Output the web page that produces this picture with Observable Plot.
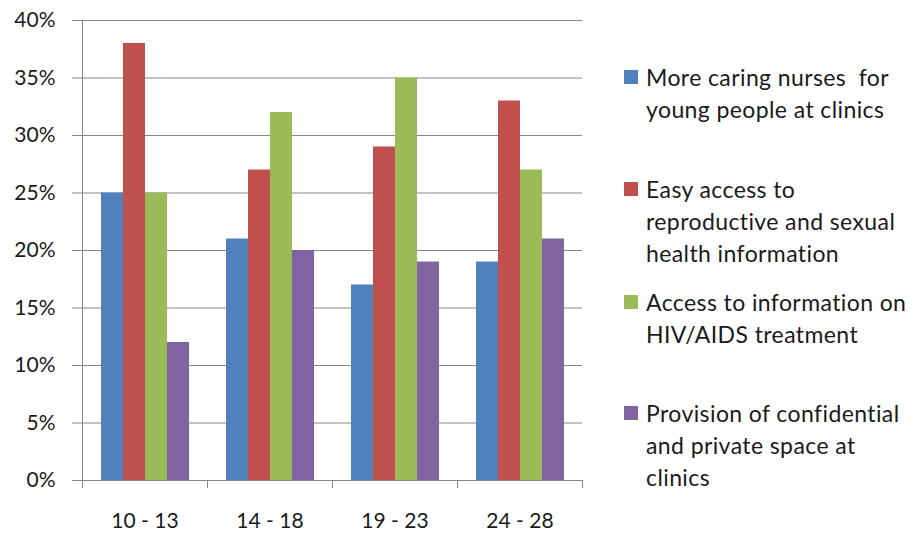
<!DOCTYPE html>
<html>
<head>
<meta charset="utf-8">
<script src="https://cdn.jsdelivr.net/npm/d3@7"></script>
<script src="https://cdn.jsdelivr.net/npm/@observablehq/plot@0.6"></script>
<style>
  html, body { margin: 0; padding: 0; background: #fff; }
  #wrap { position: relative; width: 916px; height: 536px; font-family: Lato, "Open Sans", sans-serif; }
  .legend-item { position: absolute; left: 624px; width: 292px; font-size: 23px; line-height: 32px; letter-spacing: 0.4px; color: #1a1a1a; }
  .legend-item .sw { position: absolute; left: 0; top: 9px; width: 14px; height: 14px; }
  .legend-item .tx { position: absolute; left: 22px; top: 0; white-space: nowrap; }
</style>
</head>
<body>
<div id="wrap"></div>
<script>
const groups = ["10 - 13", "14 - 18", "19 - 23", "24 - 28"];
const series = [
  "More caring nurses for young people at clinics",
  "Easy access to reproductive and sexual health information",
  "Access to information on HIV/AIDS treatment",
  "Provision of confidential and private space at clinics"
];
const seriesLines = [
  ["More caring nurses  for", "young people at clinics"],
  ["Easy access to", "reproductive and sexual", "health information"],
  ["Access to information on", "HIV/AIDS treatment"],
  ["Provision of confidential", "and private space at", "clinics"]
];
const colors = ["#4F81BD", "#C0504D", "#9BBB59", "#8064A2"];
const caringNurses   = [0.25, 0.21, 0.17, 0.19];
const easyAccess     = [0.38, 0.27, 0.29, 0.33];
const hivInfo        = [0.25, 0.32, 0.35, 0.27];
const privateSpace   = [0.12, 0.20, 0.19, 0.21];
const yTicks = [0, 0.05, 0.10, 0.15, 0.20, 0.25, 0.30, 0.35, 0.40];

const valuesBySeries = [caringNurses, easyAccess, hivInfo, privateSpace];
const data = [];
groups.forEach((g, gi) => {
  series.forEach((s, si) => data.push({group: g, series: s, value: valuesBySeries[si][gi]}));
});

const grid = "#878787";
const chart = Plot.plot({
  width: 916,
  height: 536,
  marginLeft: 82,
  marginRight: 334,
  marginTop: 20,
  marginBottom: 56,
  style: {fontFamily: "Lato, 'Open Sans', sans-serif", fontSize: "21px", color: "#1a1a1a", background: "#fff"},
  fx: {domain: groups, padding: 0, label: null, axis: "bottom", tickSize: 0, tickPadding: 33},
  x: {domain: series, axis: null, paddingInner: 0, paddingOuter: 0.78},
  y: {domain: [0, 0.4], ticks: yTicks, tickFormat: d => Math.round(d * 100) + "%", tickSize: 10, tickPadding: 17, label: null},
  color: {domain: series, range: colors},
  marks: [
    Plot.ruleY(yTicks, {stroke: grid, strokeWidth: 1}),
    Plot.barY(data, {fx: "group", x: "series", y: "value", fill: "series"})
  ]
});
document.getElementById("wrap").appendChild(chart);

// axis styling and category-boundary ticks via the plot's scales
const svg = d3.select(chart);
svg.selectAll("text").style("font-size", "21px").style("font-family", "Lato, 'Open Sans', sans-serif");
svg.selectAll("g[aria-label='y-axis'] line, g[aria-label='y-axis tick'] path, g[aria-label='y-axis'] path").attr("stroke", grid);
const fx = chart.scale("fx");
const y = chart.scale("y");
const y0 = y.apply(0), yTop = y.apply(0.4);
const bounds = groups.map(g => fx.apply(g)).concat([fx.apply(groups[groups.length - 1]) + fx.bandwidth]);
const extra = svg.append("g").attr("stroke", grid).attr("stroke-width", 1);
extra.append("line").attr("x1", bounds[0] + 0.5).attr("x2", bounds[0] + 0.5).attr("y1", yTop).attr("y2", y0 + 8);
bounds.slice(1).forEach(b => {
  extra.append("line").attr("x1", b + 0.5).attr("x2", b + 0.5).attr("y1", y0).attr("y2", y0 + 8);
});

// legend
const wrap = document.getElementById("wrap");
const tops = [61, 173, 286, 397];
const color = chart.scale("color");
series.forEach((s, i) => {
  const item = document.createElement("div");
  item.className = "legend-item";
  item.style.top = tops[i] + "px";
  const sw = document.createElement("div");
  sw.className = "sw";
  sw.style.background = color.apply(s);
  const tx = document.createElement("div");
  tx.className = "tx";
  tx.innerHTML = seriesLines[i].map(l => l.replace(/ /g, "&nbsp;")).join("<br>");
  item.appendChild(sw);
  item.appendChild(tx);
  wrap.appendChild(item);
});
</script>
</body>
</html>
